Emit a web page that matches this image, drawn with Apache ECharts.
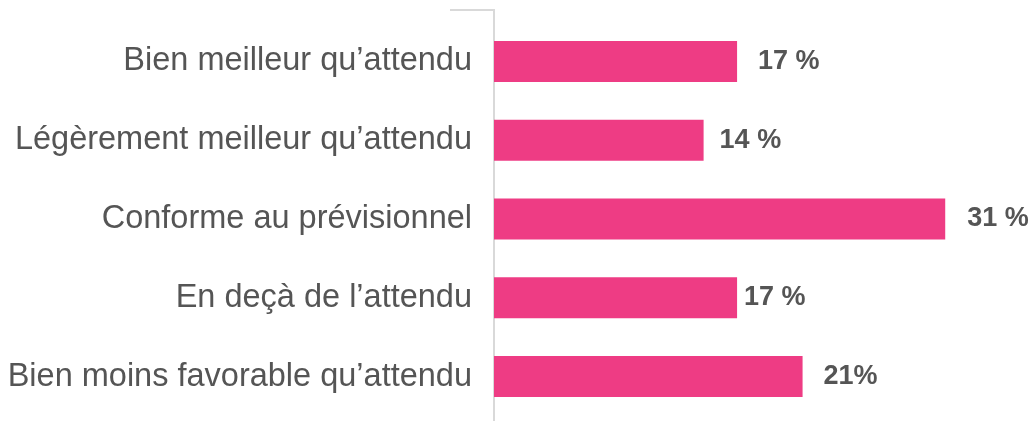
<!DOCTYPE html>
<html>
<head>
<meta charset="utf-8">
<script src="https://cdn.jsdelivr.net/npm/echarts@6/dist/echarts.min.js"></script>
<style>
	html, body {margin: 0; padding: 0; background: #fff;}
	#chart {width: 1032px; height: 421px;}
</style>
</head>
<body>
<div id="chart"></div>
<script>
var categories = ["Bien meilleur qu’attendu", "Légèrement meilleur qu’attendu", "Conforme au prévisionnel", "En deçà de l’attendu", "Bien moins favorable qu’attendu"];
var values = [16.7, 14.4, 31.0, 16.7, 21.2];
var value_labels = ["17 %", "14 %", "31 %", "17 %", "21%"];
var label_gaps = [21, 16, 22, 7, 21];

var myChart = echarts.init(document.getElementById('chart'));

var series_data = values.map(function(v, i){
	return {value: v, label: {distance: label_gaps[i]}};
});

var options = {
	animation: false,
	grid: {left: 494, right: 14, top: 22, bottom: 5},
	xAxis: {
		type: 'value', min: 0, max: 36, show: false
	},
	yAxis: {
		type: 'category', data: categories, inverse: true,
		axisLine: {show: true, lineStyle: {color: '#d9d9d9', width: 2}},
		axisTick: {show: false},
		axisLabel: {color: '#555', fontSize: 32.5, fontFamily: 'Liberation Sans, Arial, sans-serif', margin: 22, padding: [6, 0, 0, 0]}
	},
	graphic: [
		{type: 'polyline', shape: {points: [[450, 10], [494, 10], [494, 421]]}, style: {stroke: '#d9d9d9', lineWidth: 2, fill: null}, z: 1}
	],
	series: [
		{
			type: 'bar', data: series_data, barWidth: 41, z: 2,
			itemStyle: {color: '#ee3c84'},
			label: {
				show: true, position: 'right',
				formatter: function(p){ return value_labels[p.dataIndex]; },
				color: '#555', fontSize: 27, fontWeight: 'bold', fontFamily: 'Liberation Sans, Arial, sans-serif'
			}
		}
	]
};

myChart.setOption((options), true);
</script>
</body>
</html>
